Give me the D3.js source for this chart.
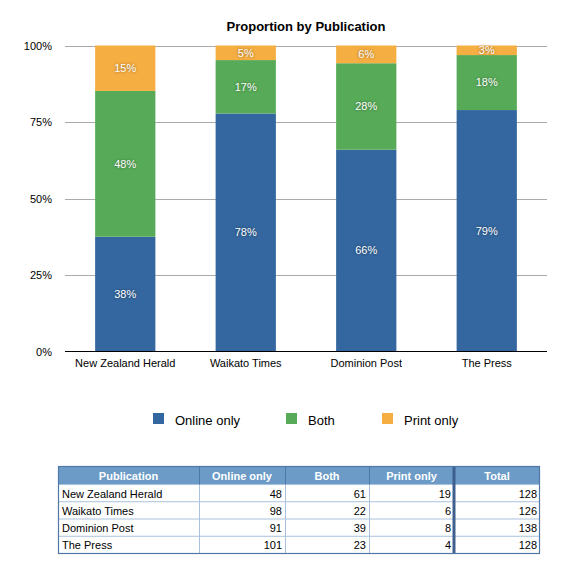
<!DOCTYPE html>
<html>
<head>
<meta charset="utf-8">
<script src="https://cdn.jsdelivr.net/npm/d3@7"></script>
<style>
  html, body { margin: 0; padding: 0; background: #fff; }
  svg { display: block; font-family: "Liberation Sans", Arial, Helvetica, sans-serif; }
  .seg-label { text-shadow: 0 0 3px rgba(0,0,0,0.45); }
</style>
</head>
<body>
<svg id="chart" width="575" height="583"></svg>
<script>
// ---- Data ----
const publications = ["New Zealand Herald", "Waikato Times", "Dominion Post", "The Press"];
const seriesNames = ["Online only", "Both", "Print only"];
const onlineOnly = [48, 98, 91, 101];
const both = [61, 22, 39, 23];
const printOnly = [19, 6, 8, 4];
const totals = [128, 126, 138, 128];
const yTicks = [0, 0.25, 0.5, 0.75, 1];
const colors = ["#34679f", "#57ab58", "#f5ae42"];
const title = "Proportion by Publication";

// ---- Build table for stack ----
const rows = publications.map((p, i) => ({
  pub: p,
  "Online only": onlineOnly[i],
  "Both": both[i],
  "Print only": printOnly[i],
  total: totals[i]
}));

const svg = d3.select("#chart");

const x = d3.scaleBand().domain(publications).range([65, 547]).paddingInner(0.5).paddingOuter(0.25);
const y = d3.scaleLinear().domain([0, 1]).range([351.5, 45.5]);
const color = d3.scaleOrdinal().domain(seriesNames).range(colors);

const stack = d3.stack().keys(seriesNames).offset(d3.stackOffsetExpand);
const stacked = stack(rows);

// Title
svg.append("text")
  .attr("x", 306).attr("y", 31)
  .attr("text-anchor", "middle")
  .attr("font-size", 13).attr("font-weight", "bold")
  .attr("fill", "#000")
  .text(title);

// Gridlines
svg.append("g").selectAll("line")
  .data(yTicks.filter(d => d > 0))
  .join("line")
  .attr("x1", 65).attr("x2", 547)
  .attr("y1", d => Math.round(y(d)) + 0.5).attr("y2", d => Math.round(y(d)) + 0.5)
  .attr("stroke", "#aaaaaa").attr("stroke-width", 1);

// Y axis labels
const yAxis = d3.axisLeft(y).tickValues(yTicks).tickFormat(d3.format(".0%")).tickSize(0).tickPadding(0);
const yg = svg.append("g").attr("transform", "translate(52,0)").call(yAxis);
yg.select(".domain").remove();
yg.selectAll("text").attr("font-size", 11).attr("fill", "#000")
  .attr("font-family", "\"Liberation Sans\", Arial, sans-serif");

// Bars
const layers = svg.append("g").selectAll("g")
  .data(stacked)
  .join("g")
  .attr("fill", d => color(d.key));

layers.selectAll("rect")
  .data(d => d)
  .join("rect")
  .attr("x", d => x(d.data.pub))
  .attr("width", x.bandwidth())
  .attr("y", d => y(d[1]))
  .attr("height", d => y(d[0]) - y(d[1]));

// Segment labels
const labels = svg.append("g");
stacked.forEach(layer => {
  labels.selectAll(null)
    .data(layer)
    .join("text")
    .attr("class", "seg-label")
    .attr("x", d => x(d.data.pub) + x.bandwidth() / 2)
    .attr("y", d => (y(d[0]) + y(d[1])) / 2)
    .attr("dy", "0.35em")
    .attr("text-anchor", "middle")
    .attr("font-size", 11)
    .attr("fill", "#fff")
    .text(d => Math.round((d[1] - d[0]) * 100) + "%");
});

// X axis
const xAxis = d3.axisBottom(x).tickSize(0).tickPadding(8);
const xg = svg.append("g").attr("transform", "translate(0,351.5)").call(xAxis);
xg.select(".domain").remove();
xg.selectAll("text").attr("font-size", 11).attr("fill", "#000")
  .attr("font-family", "\"Liberation Sans\", Arial, sans-serif");
svg.append("line")
  .attr("x1", 65).attr("x2", 547)
  .attr("y1", 351.5).attr("y2", 351.5)
  .attr("stroke", "#000").attr("stroke-width", 1.2);

// Legend
const legendX = [153, 286, 382];
const legend = svg.append("g").selectAll("g")
  .data(seriesNames)
  .join("g")
  .attr("transform", (d, i) => `translate(${legendX[i]},413)`);
legend.append("rect").attr("width", 11).attr("height", 11).attr("fill", d => color(d));
legend.append("text").attr("x", 22).attr("y", 11.5)
  .attr("font-size", 13).attr("fill", "#000").text(d => d);

// Table
const colEdges = [58, 199, 285, 369, 454, 540];
const headers = ["Publication", "Online only", "Both", "Print only", "Total"];
const tableTop = 466.5, headerH = 18, rowH = 17.25;
const tg = svg.append("g");

tg.append("rect")
  .attr("x", colEdges[0]).attr("y", tableTop)
  .attr("width", colEdges[5] - colEdges[0]).attr("height", headerH)
  .attr("fill", "#6b9bc6");

// header text
tg.selectAll(".hdr")
  .data(headers)
  .join("text")
  .attr("class", "hdr")
  .attr("x", (d, i) => (colEdges[i] + colEdges[i + 1]) / 2)
  .attr("y", tableTop + 13)
  .attr("text-anchor", "middle")
  .attr("font-size", 11).attr("font-weight", "bold")
  .attr("fill", "#fff")
  .text(d => d);

// row lines
const nRows = rows.length;
const rowYs = d3.range(nRows + 1).map(i => tableTop + headerH + i * rowH);
tg.selectAll(".hline")
  .data(rowYs.slice(0, -1))
  .join("line")
  .attr("x1", colEdges[0]).attr("x2", colEdges[5])
  .attr("y1", d => d).attr("y2", d => d)
  .attr("stroke", "#a9c1de").attr("stroke-width", 1);

// vertical inner lines
tg.selectAll(".vline")
  .data([1, 2, 3])
  .join("line")
  .attr("x1", i => colEdges[i] + 0.5).attr("x2", i => colEdges[i] + 0.5)
  .attr("y1", tableTop + headerH).attr("y2", rowYs[nRows])
  .attr("stroke", "#a9c1de").attr("stroke-width", 1);
tg.selectAll(".vhline")
  .data([1, 2, 3])
  .join("line")
  .attr("x1", i => colEdges[i] + 0.5).attr("x2", i => colEdges[i] + 0.5)
  .attr("y1", tableTop).attr("y2", tableTop + headerH)
  .attr("stroke", "#4f77a8").attr("stroke-width", 1);

// thick divider before Total
tg.append("line")
  .attr("x1", colEdges[4]).attr("x2", colEdges[4])
  .attr("y1", tableTop).attr("y2", rowYs[nRows])
  .attr("stroke", "#3f5f8f").attr("stroke-width", 3);

// outer border
tg.append("rect")
  .attr("x", colEdges[0] + 0.5).attr("y", tableTop)
  .attr("width", colEdges[5] - colEdges[0] - 1).attr("height", rowYs[nRows] - tableTop)
  .attr("fill", "none").attr("stroke", "#4f77a8").attr("stroke-width", 1.2);

// cells
const cellData = [];
rows.forEach((r, ri) => {
  const vals = [r.pub, r["Online only"], r["Both"], r["Print only"], r.total];
  vals.forEach((v, ci) => cellData.push({ v, ri, ci }));
});
tg.selectAll(".cell")
  .data(cellData)
  .join("text")
  .attr("class", "cell")
  .attr("x", d => d.ci === 0 ? colEdges[0] + 4 : colEdges[d.ci + 1] - 3)
  .attr("y", d => rowYs[d.ri] + 13)
  .attr("text-anchor", d => d.ci === 0 ? "start" : "end")
  .attr("font-size", 11).attr("fill", "#000")
  .text(d => d.v);
</script>
</body>
</html>
